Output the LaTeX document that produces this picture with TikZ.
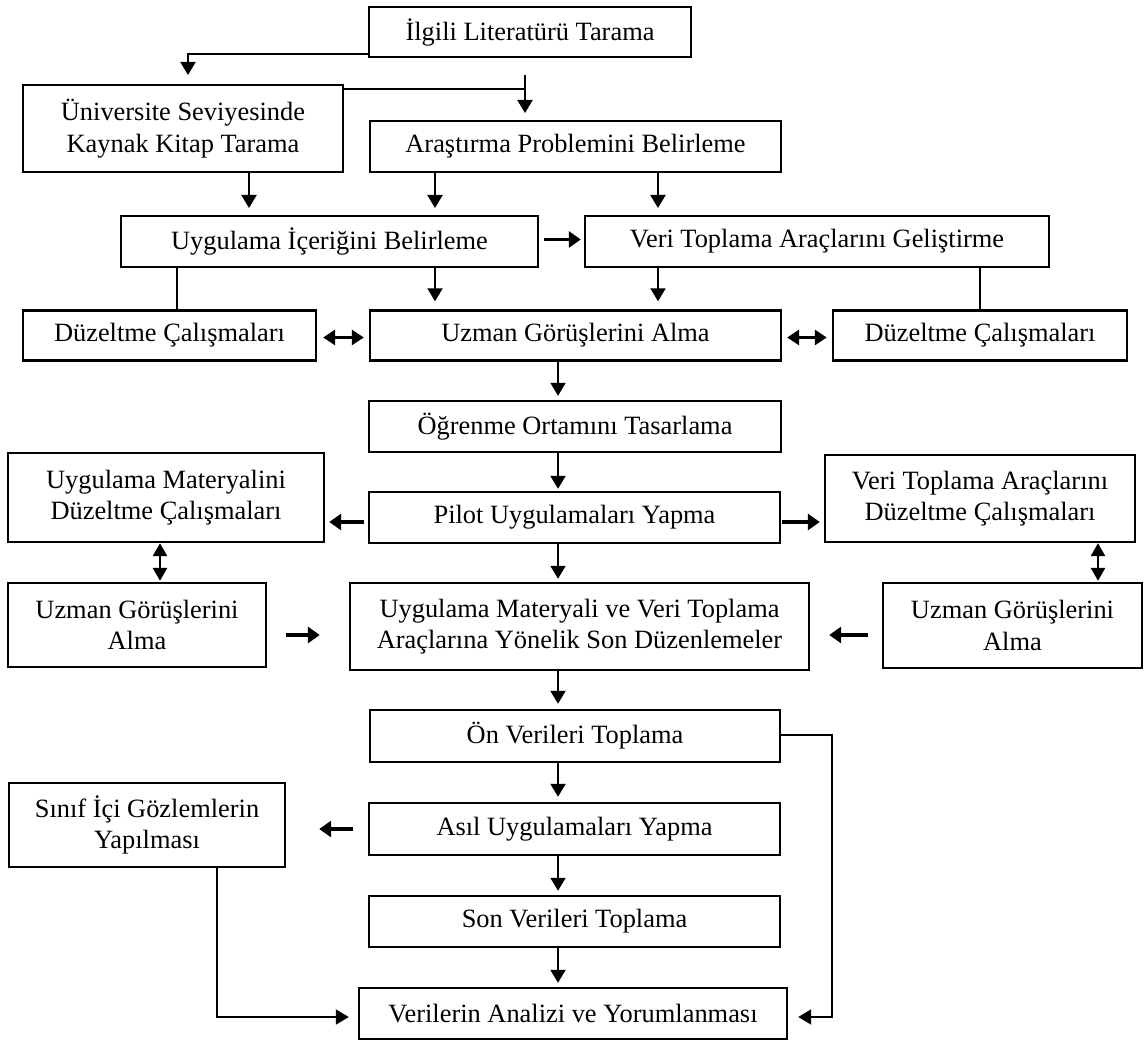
\documentclass[tikz,border=0pt]{standalone}
\usepackage{fontspec}
\setmainfont{Liberation Serif}
\usetikzlibrary{arrows.meta,calc}
\begin{document}
\begin{tikzpicture}[x=0.5pt,y=-0.5pt,
  box/.style={draw, line width=1.2pt, align=center, inner sep=0pt,
    font=\fontsize{13.2pt}{15.8pt}\selectfont},
  arr/.style={line width=1pt, -{Triangle[length=6.5pt,width=7.5pt]}},
  barr/.style={line width=1.8pt, -{Triangle[length=6pt,width=8pt]}},
  darr/.style={line width=1.8pt, {Triangle[length=6pt,width=7.5pt]}-{Triangle[length=6pt,width=7.5pt]}},
  vdarr/.style={line width=1.3pt, {Triangle[length=6.5pt,width=7pt]}-{Triangle[length=6.5pt,width=7pt]}},
  ln/.style={line width=0.8pt}]
\useasboundingbox (0,0) rectangle (1145,1042);

% boxes
\node[box, minimum width=161pt, minimum height=25pt] (A) at (530,32) {İlgili Literatürü Tarama};
\node[box, minimum width=160pt, minimum height=43.5pt] (B) at (183,128.5) {Üniversite Seviyesinde\\Kaynak Kitap Tarama};
\node[box, minimum width=205.5pt, minimum height=25.5pt] (C) at (575.5,146.5) {Araştırma Problemini Belirleme};
\node[box, minimum width=208.5pt, minimum height=25.5pt] (D) at (329.5,241.5) {Uygulama İçeriğini Belirleme};
\node[box, minimum width=232pt, minimum height=25.5pt] (E) at (817,241.5) {Veri Toplama Araçlarını Geliştirme};
\node[box, minimum width=146.5pt, minimum height=25pt] (F) at (169.5,335.5) {Düzeltme Çalışmaları};
\node[box, minimum width=205.5pt, minimum height=25pt] (G) at (575.5,335.5) {Uzman Görüşlerini Alma};
\node[box, minimum width=147pt, minimum height=25pt] (H) at (980,335.5) {Düzeltme Çalışmaları};
\node[box, minimum width=206pt, minimum height=25.5pt] (I) at (575,426.5) {Öğrenme Ortamını Tasarlama};
\node[box, minimum width=205.5pt, minimum height=25.5pt] (J) at (574.5,517.5) {Pilot Uygulamaları Yapma};
\node[box, minimum width=158pt, minimum height=44.5pt] (K) at (166,497.5) {Uygulama Materyalini\\Düzeltme Çalışmaları};
\node[box, minimum width=155pt, minimum height=43.5pt] (L) at (980,498.5) {Veri Toplama Araçlarını\\Düzeltme Çalışmaları};
\node[box, minimum width=129pt, minimum height=42pt] (M) at (137,625) {Uzman Görüşlerini\\Alma};
\node[box, minimum width=229.5pt, minimum height=43.5pt] (N) at (579.5,626.5) {Uygulama Materyali ve Veri Toplama\\Araçlarına Yönelik Son Düzenlemeler};
\node[box, minimum width=129.5pt, minimum height=42.5pt] (O) at (1012.5,625.5) {Uzman Görüşlerini\\Alma};
\node[box, minimum width=205pt, minimum height=26pt] (P) at (575,736) {Ön Verileri Toplama};
\node[box, minimum width=138pt, minimum height=42pt] (Q) at (147,825) {Sınıf İçi Gözlemlerin\\Yapılması};
\node[box, minimum width=205.5pt, minimum height=26pt] (R) at (574.5,829) {Asıl Uygulamaları Yapma};
\node[box, minimum width=205.5pt, minimum height=25.5pt] (S) at (574.5,921.5) {Son Verileri Toplama};
\node[box, minimum width=214pt, minimum height=25.5pt] (T) at (573,1013.5) {Verilerin Analizi ve Yorumlanması};

% helper coordinates
\coordinate (tB) at (188,75);
\coordinate (sC) at (525,75);
\coordinate (tC) at (525,113);
\coordinate (bj) at ($(B.north east)+(0,5)$);
\coordinate (x1) at (249,208);
\coordinate (x2) at (435,208);
\coordinate (x3) at (658,208);
\coordinate (xF) at (177,0);
\coordinate (xm) at (558,0);
\coordinate (xk) at (160,0);
\coordinate (xl) at (1098,0);
\coordinate (rx) at (832,735);
\coordinate (ry) at (832,1017);
\coordinate (qy) at (217,1017);

% top part
\draw[arr] ($(A.south west)+(0,-4)$) -| (tB);
\draw[arr] (sC) -- (tC);
\draw[ln] (bj) -- (bj -| tC);
\draw[arr] (B.south -| x1) -- (x1);
\draw[arr] (C.south -| x2) -- (x2);
\draw[arr] (C.south -| x3) -- (x3);
\draw[barr] ($(D.east)+(5,-2)$) -- ($(E.west)+(-3,-2)$);
\draw[ln] (D.south -| xF) -- (F.north -| xF);
\draw[arr] (D.south -| x2) -- ($(G.north -| x2)+(0,-8)$);
\draw[arr] (E.south -| x3) -- ($(G.north -| x3)+(0,-8)$);
\draw[ln] (E.south -| H.north) -- (H.north);
\draw[darr] ($(F.east)+(6,2)$) -- ($(G.west)+(-5,2)$);
\draw[darr] ($(G.east)+(5,2)$) -- ($(H.west)+(-5,2)$);

% middle
\draw[arr] (G.south -| xm) -- ($(I.north -| xm)+(0,-4)$);
\draw[arr] (I.south -| xm) -- ($(J.north -| xm)+(0,-2)$);
\draw[barr] ($(J.west)+(-4,4.5)$) -- ($(K.east)+(4,24.5)$);
\draw[barr] ($(J.east)+(1,4.5)$) -- ($(L.west)+(-4,23.5)$);
\draw[vdarr] (K.south -| xk) -- ($(M.north -| xk)+(0,-1)$);
\draw[vdarr] (L.south -| xl) -- ($(O.north -| xl)+(0,-1)$);
\draw[arr] (J.south -| xm) -- ($(N.north -| xm)+(0,-3)$);
\draw[barr] ($(M.east)+(19,10)$) -- ($(N.west)+(-29,8.5)$);
\draw[barr] ($(O.west)+(-14,9.5)$) -- ($(N.east)+(19,8.5)$);
\draw[arr] (N.south -| xm) -- ($(P.north -| xm)+(0,-5)$);

% bottom
\draw[arr] (P.east |- rx) -- (rx) -- (ry) -- ($(T.east |- ry)+(10,0)$);
\draw[arr] (P.south -| xm) -- ($(R.north -| xm)+(0,-5)$);
\draw[barr] ($(R.west)+(-15,0)$) -- ($(Q.east)+(33,4)$);
\draw[arr] (R.south -| xm) -- ($(S.north -| xm)+(0,-4)$);
\draw[arr] (S.south -| xm) -- ($(T.north -| xm)+(0,-4)$);
\draw[arr] (Q.south -| qy) -- (qy) -- ($(T.west |- qy)+(-9,0)$);
\end{tikzpicture}
\end{document}
